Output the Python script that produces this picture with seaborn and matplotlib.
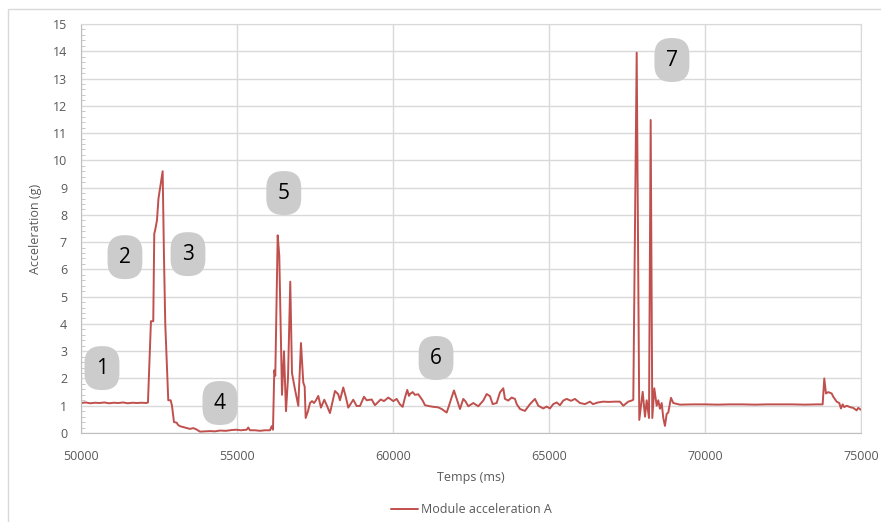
import matplotlib.pyplot as plt
import matplotlib.patches as mpatches
from matplotlib.ticker import MultipleLocator
import seaborn as sns
import pandas as pd

# time (ms) and module of acceleration (g)
temps = [
    50000, 50150, 50300, 50450, 50600, 50750, 50900, 51050, 51200, 51350,
    51500, 51650, 51800, 51950, 52100, 52147, 52243, 52317, 52349, 52388,
    52436, 52484, 52618, 52660, 52702, 52798, 52875, 52917, 52981, 53067,
    53109, 53173, 53269, 53388, 53493, 53599, 53686, 53814, 53974, 54134,
    54295, 54455, 54647, 54840, 54990, 55128, 55311, 55362, 55416, 55577,
    55737, 55897, 56058, 56112, 56154, 56196, 56228, 56305, 56356, 56443,
    56507, 56571, 56635, 56708, 56763, 56859, 56965, 57051, 57125, 57170,
    57202, 57276, 57340, 57404, 57468, 57532, 57606, 57692, 57798, 57884,
    57980, 58141, 58246, 58301, 58407, 58493, 58567, 58727, 58836, 58942,
    59070, 59157, 59317, 59423, 59606, 59711, 59849, 60009, 60118, 60224,
    60310, 60384, 60458, 60513, 60545, 60631, 60705, 60811, 60952, 61025,
    61186, 61292, 61452, 61561, 61721, 61795, 61881, 61955, 62061, 62147,
    62253, 62330, 62414, 62574, 62734, 62894, 63003, 63109, 63195, 63323,
    63429, 63535, 63589, 63695, 63804, 63910, 63965, 64070, 64230, 64391,
    64551, 64657, 64817, 64926, 65031, 65137, 65246, 65352, 65458, 65567,
    65704, 65832, 65993, 66153, 66313, 66409, 66570, 66740, 66900, 67115,
    67275, 67381, 67541, 67650, 67702, 67811, 67894, 68003, 68077, 68131,
    68205, 68259, 68311, 68375, 68452, 68503, 68557, 68612, 68663, 68717,
    68772, 68823, 68910, 68983, 69198, 69600, 70000, 70400, 70800, 71200,
    71600, 72000, 72400, 72800, 73200, 73600, 73771, 73823, 73877, 73951,
    74060, 74111, 74220, 74303, 74358, 74412, 74463, 74540, 74646, 74751,
    74860, 74911, 75000,
]
accel = [
    1.10, 1.12, 1.09, 1.11, 1.10, 1.12, 1.09, 1.11, 1.10, 1.12,
    1.09, 1.11, 1.10, 1.11, 1.10, 1.12, 4.10, 4.10, 7.30, 7.50,
    7.80, 8.60, 9.60, 6.50, 4.00, 1.20, 1.20, 1.00, 0.40, 0.38,
    0.30, 0.25, 0.22, 0.18, 0.15, 0.18, 0.14, 0.05, 0.06, 0.07,
    0.06, 0.09, 0.08, 0.11, 0.12, 0.10, 0.12, 0.20, 0.10, 0.10,
    0.08, 0.10, 0.10, 0.25, 0.12, 2.30, 2.10, 7.25, 6.50, 1.40,
    3.00, 0.80, 2.00, 5.55, 2.20, 1.60, 1.00, 3.30, 1.85, 1.70,
    0.55, 0.80, 1.10, 1.17, 1.10, 1.20, 1.36, 0.93, 1.22, 1.00,
    0.73, 1.54, 1.42, 1.20, 1.67, 1.30, 0.93, 1.22, 0.99, 0.99,
    1.33, 1.20, 1.23, 1.02, 1.23, 1.17, 1.30, 1.17, 1.25, 1.05,
    0.96, 1.30, 1.58, 1.36, 1.43, 1.50, 1.40, 1.42, 1.19, 1.02,
    0.98, 0.96, 0.94, 0.88, 0.75, 1.00, 1.31, 1.56, 1.19, 0.88,
    1.25, 1.15, 0.98, 1.10, 0.98, 1.19, 1.43, 1.35, 1.06, 1.10,
    1.49, 1.64, 1.25, 1.19, 1.30, 1.25, 1.06, 0.88, 0.81, 1.06,
    1.25, 1.00, 0.90, 0.97, 0.90, 1.06, 1.12, 1.02, 1.19, 1.25,
    1.18, 1.25, 1.10, 1.06, 1.15, 1.06, 1.12, 1.15, 1.14, 1.15,
    1.15, 1.00, 1.15, 1.19, 1.22, 13.95, 0.48, 1.51, 0.60, 1.20,
    0.55, 11.48, 0.55, 1.64, 1.00, 1.20, 0.89, 1.10, 0.55, 0.26,
    0.70, 0.75, 1.29, 1.10, 1.04, 1.05, 1.05, 1.04, 1.05, 1.05,
    1.04, 1.05, 1.05, 1.05, 1.04, 1.05, 1.05, 2.00, 1.45, 1.50,
    1.45, 1.33, 1.15, 1.10, 0.90, 1.05, 0.95, 1.00, 0.95, 0.92,
    0.83, 0.92, 0.85,
]

# numbered phase markers
phases = ["1", "2", "3", "4", "5", "6", "7"]
phase_x = [50673, 51410, 53430, 54455, 56500, 61380, 68940]
phase_y = [2.38, 6.45, 6.56, 1.10, 8.80, 2.75, 13.68]

df = pd.DataFrame({"Temps (ms)": temps, "Acceleration (g)": accel})

sns.set_style("white")
plt.rcParams["font.family"] = ["Open Sans", "DejaVu Sans"]

fig = plt.figure(figsize=(8.81, 5.22), dpi=100)
ax = fig.add_axes([0.0919, 0.1705, 0.8854, 0.7835])

# outer chart frame
fig.patches.append(mpatches.Rectangle((0.009, -0.01), 1.0, 0.993, transform=fig.transFigure,
                                      fill=False, edgecolor="#d9d9d9", linewidth=1))

sns.lineplot(data=df, x="Temps (ms)", y="Acceleration (g)", ax=ax, color="#c0504d",
             linewidth=1.4, label="Module acceleration A")

for lab, px, py in zip(phases, phase_x, phase_y):
    ax.text(px, py, lab, ha="center", va="center", fontsize=15, color="black",
            bbox=dict(boxstyle="round,pad=0.55,rounding_size=0.8", fc="#cccccc", ec="none"))

ax.set_xlim(50000, 75000)
ax.set_ylim(0, 15)
ax.xaxis.set_major_locator(MultipleLocator(5000))
ax.yaxis.set_major_locator(MultipleLocator(1))
ax.yaxis.set_minor_locator(MultipleLocator(0.2))
ax.grid(True, which="major", color="#d9d9d9", linewidth=1)
ax.set_axisbelow(True)
for side in ax.spines.values():
    side.set_color("#d9d9d9")
ax.spines["left"].set_color("#bfbfbf")
ax.spines["bottom"].set_color("#bfbfbf")

ax.tick_params(axis="y", which="major", length=6, color="#bfbfbf", labelsize=9,
               labelcolor="#595959", pad=4)
ax.tick_params(axis="y", which="minor", direction="in", length=3, color="#bfbfbf", left=True)
ax.tick_params(axis="x", which="major", length=0, labelsize=9, labelcolor="#595959", pad=12)

ax.set_xlabel("Temps (ms)", fontsize=9, color="#595959", labelpad=6)
ax.set_ylabel("Acceleration (g)", fontsize=9, color="#595959", labelpad=8)

ax.legend(loc="center", bbox_to_anchor=(0.5, -0.188), frameon=False, fontsize=9,
          labelcolor="#595959", handlelength=2.2, handletextpad=0.2)

fig.savefig("out.png", dpi=100)
